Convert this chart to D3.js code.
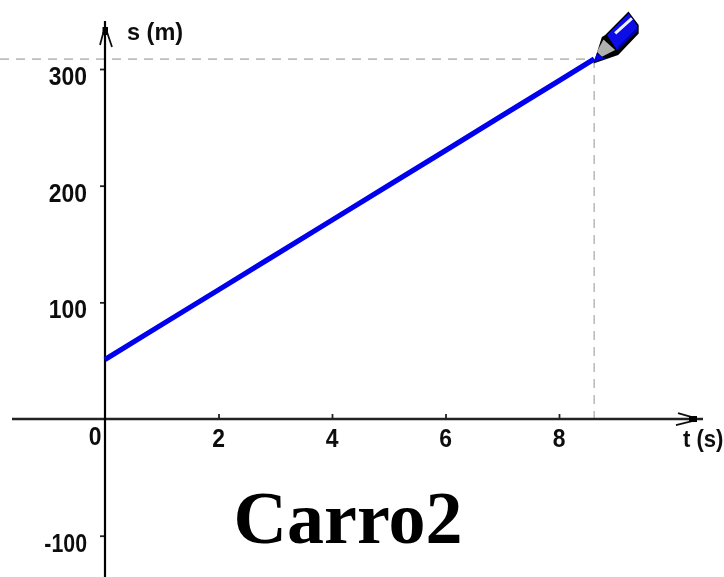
<!DOCTYPE html>
<html><head><meta charset="utf-8">
<script src="https://cdn.jsdelivr.net/npm/d3@7/dist/d3.min.js"></script>
<style>
html,body{margin:0;padding:0;background:#fff;overflow:hidden}
svg{display:block}
.lbl{font-family:"Liberation Sans",Arial,sans-serif;font-weight:700;font-size:26px;fill:#111}
.ttl{font-family:"Liberation Sans",Arial,sans-serif;font-weight:700;font-size:23.5px;fill:#111}
</style></head><body>
<svg id="c" width="724" height="577"></svg>
<script>
const times = [0,1,2,3,4,5,6,7,8,8.62];
const positions = [51,80.9,110.7,140.6,170.5,200.4,230.2,260.1,290,308.5];
const xTicks = [2,4,6,8];
const yTicks = [-100,100,200,300];
const xTitle = "t (s)";
const yTitle = "s (m)";
const chartTitle = "Carro2";

const svg = d3.select("#c");
const x = d3.scaleLinear().domain([0,8]).range([105,559]);
const y = d3.scaleLinear().domain([-100,300]).range([535.7,69]);
const axisColor = "#222";

const defs = svg.append("defs");
defs.append("filter").attr("id","soft").attr("filterUnits","userSpaceOnUse")
  .attr("x",0).attr("y",0).attr("width",724).attr("height",577)
  .append("feGaussianBlur").attr("stdDeviation",0.65);

const root = svg.append("g").attr("filter","url(#soft)");
const tEnd = times[times.length-1], sEnd = positions[positions.length-1];

// guide lines
const guide = root.append("g").attr("stroke","#bdbdbd").attr("stroke-width",1.6).attr("stroke-dasharray","9 7");
guide.append("line").attr("x1",0).attr("x2",x(tEnd)).attr("y1",y(sEnd)).attr("y2",y(sEnd));
guide.append("line").attr("x1",x(tEnd)).attr("x2",x(tEnd)).attr("y1",y(sEnd)).attr("y2",y(0));

// axes
const gx = root.append("g").attr("transform",`translate(0,${y(0)})`)
  .call(d3.axisTop(x).tickValues(xTicks).tickSize(5).tickFormat(""));
gx.select(".domain").remove();
gx.selectAll("line").attr("stroke",axisColor).attr("stroke-width",1.8);
const gy = root.append("g").attr("transform",`translate(${x(0)},0)`)
  .call(d3.axisLeft(y).tickValues(yTicks).tickSize(5).tickFormat(""));
gy.select(".domain").remove();
gy.selectAll("line").attr("stroke",axisColor).attr("stroke-width",1.8);

root.append("line").attr("x1",12).attr("x2",703).attr("y1",y(0)).attr("y2",y(0)).attr("stroke","#222").attr("stroke-width",2.4);
root.append("line").attr("x1",x(0)).attr("x2",x(0)).attr("y1",21).attr("y2",577).attr("stroke","#000").attr("stroke-width",2.2);

// arrowheads
const ax = root.append("g").attr("fill","none").attr("stroke","#111").attr("stroke-width",1.8);
ax.append("path").attr("d",`M678 ${y(0)-6} L692 ${y(0)-2} M676 ${y(0)+6} L692 ${y(0)+2}`);
root.append("rect").attr("x",689).attr("y",y(0)-3).attr("width",8).attr("height",6).attr("fill","#000");
ax.append("path").attr("d",`M${x(0)-5} 45 L${x(0)-1.5} 32 M${x(0)+7} 47 L${x(0)+2} 32`);
root.append("rect").attr("x",x(0)-2.5).attr("y",27).attr("width",5.5).attr("height",8).attr("fill","#000");

// tick labels (the narrow raster digits are reproduced with a horizontal squeeze)
const squeezed = (px,py,sx=0.88)=>`translate(${px},${py}) scale(${sx},1)`;
root.append("g").selectAll("text").data(xTicks).join("text").attr("class","lbl")
  .attr("transform",d=>squeezed(x(d),y(0)+28)).attr("text-anchor","middle").text(d=>d);
root.append("text").attr("class","lbl").attr("transform",squeezed(95,y(0)+26)).attr("text-anchor","middle").text(0);
root.append("g").selectAll("text").data(yTicks).join("text").attr("class","lbl")
  .attr("transform",d=>squeezed(87,y(d)+16,d<0?0.82:0.88)).attr("text-anchor","end").text(d=>d);
root.append("text").attr("class","ttl").attr("x",127).attr("y",40).text(yTitle);
root.append("text").attr("class","ttl").attr("transform","translate(683,447) scale(0.94,1)").text(xTitle);

// series
root.append("path").attr("fill","none").attr("stroke","#0000ee").attr("stroke-width",5.2)
  .attr("d",d3.line().x((d,i)=>x(times[i])).y(d=>y(d))(positions));

// pen, anchored on the last point
const pen = root.append("g").attr("transform",`translate(${x(tEnd)},${y(sEnd)})`);
pen.append("path").attr("d","M11 -24 L34.3 -47.5 L44.5 -34 L44.5 -25.5 L24 -4 L-0.7 4.3 L7.7 -22 Z").attr("fill","#000");
pen.append("path").attr("d","M12.7 -24 L34.3 -45.5 L42.7 -34 L42.7 -27.3 L22.7 -9 Z").attr("fill","#0808e8");
pen.append("path").attr("d","M24 -12 L42.7 -31 L42.7 -27.3 L22.7 -9 Z").attr("fill","#0000a8");
pen.append("path").attr("d","M9.3 -19.7 L21 -9 L7.7 -2.3 L2.7 -7.3 Z").attr("fill","#b0b0b0");
pen.append("path").attr("d","M-0.7 2.7 L2.7 -5.7 L11 -0.7 Z").attr("fill","#0000ee");
pen.append("path").attr("d","M21 -25.7 L37.7 -40.7").attr("stroke","#f2f4ff").attr("stroke-width",3);

// title
root.append("text").attr("x",348).attr("y",543).attr("text-anchor","middle")
  .attr("font-family","'Liberation Serif','Times New Roman',serif").attr("font-weight",700)
  .attr("font-size",74).attr("fill","#000").text(chartTitle);
</script></body></html>
